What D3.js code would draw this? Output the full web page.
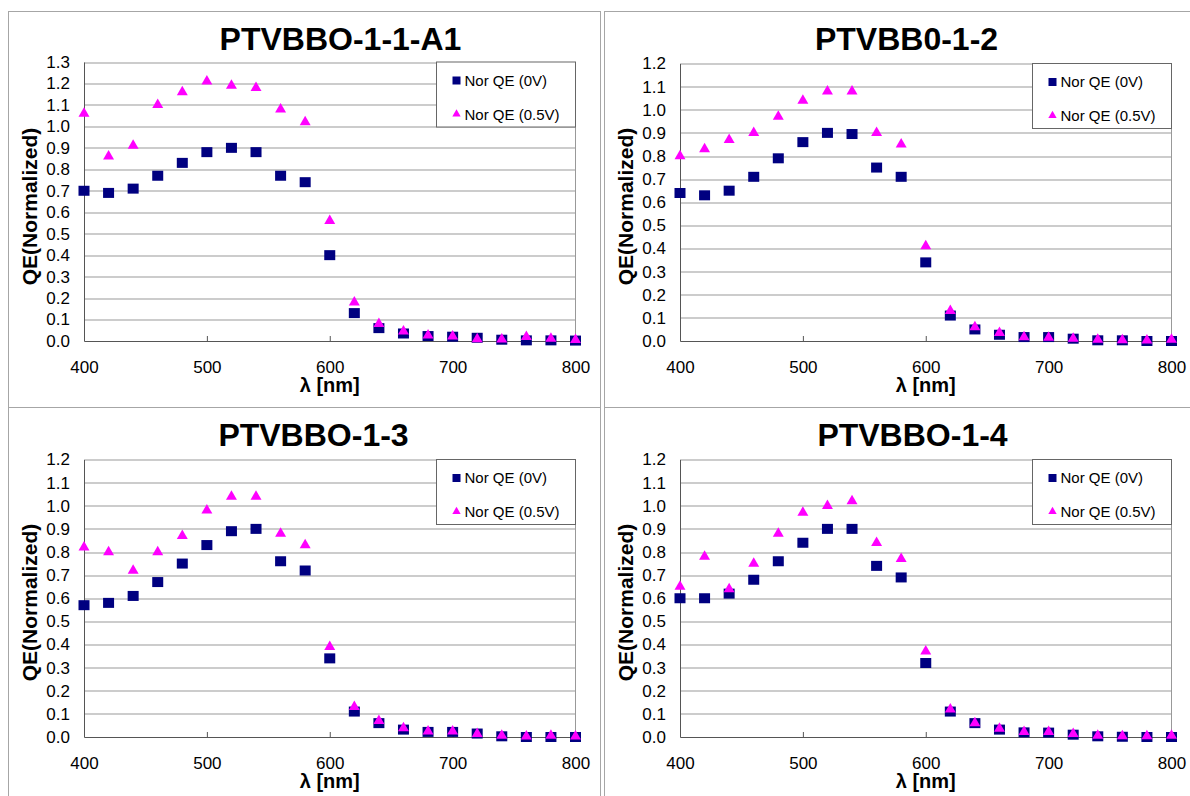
<!DOCTYPE html>
<html>
<head>
<meta charset="utf-8">
<script src="https://cdn.jsdelivr.net/npm/d3@7"></script>
<style>
    body { margin: 0; background: #fff; }
    svg { display: block; font-family: "Liberation Sans", Arial, sans-serif; }
</style>
</head>
<body>
<svg id="chart" width="1190" height="796"></svg>
<script>

var wavelengths = [400, 420, 440, 460, 480, 500, 520, 540, 560, 580, 600, 620, 640, 660, 680, 700, 720, 740, 760, 780, 800];
var xTicks = [400, 500, 600, 700, 800];
var yTicks13 = [0, 0.1, 0.2, 0.3, 0.4, 0.5, 0.6, 0.7, 0.8, 0.9, 1.0, 1.1, 1.2, 1.3];
var yTicks12 = [0, 0.1, 0.2, 0.3, 0.4, 0.5, 0.6, 0.7, 0.8, 0.9, 1.0, 1.1, 1.2];

var titles = ['PTVBBO-1-1-A1', 'PTVBB0-1-2', 'PTVBBO-1-3', 'PTVBBO-1-4'];
var seriesNames = ['Nor QE (0V)', 'Nor QE (0.5V)'];

var qe0V_A1 = [0.70, 0.69, 0.71, 0.77, 0.83, 0.88, 0.90, 0.88, 0.77, 0.74, 0.40, 0.13, 0.06, 0.035, 0.023, 0.02, 0.015, 0.006, 0.003, 0.003, 0.002];
var qe05V_A1 = [1.06, 0.86, 0.91, 1.10, 1.16, 1.21, 1.19, 1.18, 1.08, 1.02, 0.56, 0.18, 0.08, 0.045, 0.026, 0.022, 0.009, 0.008, 0.019, 0.011, 0.006];

var qe0V_2 = [0.64, 0.63, 0.65, 0.71, 0.79, 0.86, 0.90, 0.895, 0.75, 0.71, 0.34, 0.11, 0.05, 0.027, 0.017, 0.017, 0.01, 0.003, 0.003, 0.0, 0.0];
var qe05V_2 = [0.80, 0.83, 0.87, 0.90, 0.97, 1.04, 1.08, 1.08, 0.90, 0.85, 0.41, 0.13, 0.06, 0.035, 0.017, 0.015, 0.01, 0.006, 0.004, 0.003, 0.006];

var qe0V_3 = [0.57, 0.58, 0.61, 0.67, 0.75, 0.83, 0.89, 0.90, 0.76, 0.72, 0.34, 0.11, 0.06, 0.032, 0.022, 0.022, 0.015, 0.003, 0.0, 0.0, 0.0];
var qe05V_3 = [0.82, 0.80, 0.72, 0.80, 0.87, 0.98, 1.04, 1.04, 0.88, 0.83, 0.39, 0.13, 0.07, 0.039, 0.025, 0.025, 0.014, 0.006, 0.003, 0.006, 0.003];

var qe0V_4 = [0.60, 0.60, 0.62, 0.68, 0.76, 0.84, 0.90, 0.90, 0.74, 0.69, 0.32, 0.11, 0.06, 0.032, 0.02, 0.019, 0.01, 0.003, 0.001, 0.0, 0.0];
var qe05V_4 = [0.65, 0.78, 0.64, 0.75, 0.88, 0.97, 1.00, 1.02, 0.84, 0.77, 0.37, 0.12, 0.06, 0.036, 0.022, 0.022, 0.014, 0.006, 0.004, 0.004, 0.006];

var panels = [
    { x: 8.5, y: 11.5, w: 592, h: 396, titleX: 332, top: 50.5, ticks: yTicks13, s0: qe0V_A1, s05: qe05V_A1 },
    { x: 604.5, y: 11.5, w: 600, h: 396, titleX: 302, top: 52, ticks: yTicks12, s0: qe0V_2, s05: qe05V_2 },
    { x: 8.5, y: 407.5, w: 592, h: 400, titleX: 305, top: 52, ticks: yTicks12, s0: qe0V_3, s05: qe05V_3 },
    { x: 604.5, y: 407.5, w: 600, h: 400, titleX: 308, top: 52, ticks: yTicks12, s0: qe0V_4, s05: qe05V_4 }
];

var plotLeft = 75.5, plotRight = 567, plotBottom = 329.5;
var fontFamily = '"Liberation Sans", Arial, sans-serif';

var svg = d3.select('#chart');

panels.forEach(function (p, i) {

    var g = svg.append('g').attr('transform', 'translate(' + p.x + ',' + p.y + ')');

    // panel frame
    g.append('rect')
        .attr('width', p.w).attr('height', p.h)
        .attr('fill', '#fff').attr('stroke', '#a6a6a6');

    var yMax = p.ticks[p.ticks.length - 1];
    var x = d3.scaleLinear().domain([400, 800]).range([plotLeft, plotRight]);
    var y = d3.scaleLinear().domain([0, yMax]).range([plotBottom, p.top]);

    // gridlines
    g.append('g').selectAll('line')
        .data(p.ticks.slice(1))
        .enter().append('line')
        .attr('x1', plotLeft).attr('x2', plotRight)
        .attr('y1', function (d) { return Math.round(y(d)) + 0.5; })
        .attr('y2', function (d) { return Math.round(y(d)) + 0.5; })
        .attr('stroke', '#999');

    g.append('line')
        .attr('x1', plotRight).attr('x2', plotRight)
        .attr('y1', y(yMax)).attr('y2', plotBottom)
        .attr('stroke', '#999');

    // axes
    var xAxis = g.append('g')
        .attr('transform', 'translate(0,' + plotBottom + ')')
        .call(d3.axisBottom(x).tickValues(xTicks).tickSize(-5).tickSizeOuter(0).tickPadding(20));
    xAxis.attr('font-size', 17).attr('font-family', fontFamily);
    xAxis.selectAll('path, line').attr('stroke', '#555');
    xAxis.selectAll('text').attr('fill', '#000');

    var yAxis = g.append('g')
        .attr('transform', 'translate(' + plotLeft + ',0)')
        .call(d3.axisLeft(y).tickValues(p.ticks).tickSize(0).tickPadding(14).tickFormat(d3.format('.1f')));
    yAxis.attr('font-size', 17).attr('font-family', fontFamily);
    yAxis.select('.domain').attr('stroke', '#555');
    yAxis.selectAll('text').attr('fill', '#000');

    // titles
    g.append('text')
        .attr('x', p.titleX).attr('y', 38)
        .attr('text-anchor', 'middle')
        .attr('font-size', 32).attr('font-weight', 'bold')
        .text(titles[i]);

    g.append('text')
        .attr('x', (plotLeft + plotRight) / 2).attr('y', 380)
        .attr('text-anchor', 'middle')
        .attr('font-size', 20).attr('font-weight', 'bold')
        .text('λ [nm]');

    g.append('text')
        .attr('transform', 'translate(21,195) rotate(-90)')
        .attr('dy', '0.35em')
        .attr('text-anchor', 'middle')
        .attr('font-size', 21).attr('font-weight', 'bold')
        .text('QE(Normalized)');

    // points
    g.append('g').selectAll('rect')
        .data(p.s0)
        .enter().append('rect')
        .attr('x', function (d, j) { return x(wavelengths[j]) - 5.5; })
        .attr('y', function (d) { return y(d) - 5; })
        .attr('width', 11).attr('height', 10)
        .attr('fill', '#000080');

    var tri = d3.symbol().type(d3.symbolTriangle).size(52);
    g.append('g').selectAll('path')
        .data(p.s05)
        .enter().append('path')
        .attr('d', tri)
        .attr('transform', function (d, j) { return 'translate(' + x(wavelengths[j]) + ',' + y(d) + ')'; })
        .attr('fill', '#ff00ff');

    // legend
    var legend = g.append('g').attr('transform', 'translate(' + (plotRight - 139) + ',' + p.top + ')');
    legend.append('rect')
        .attr('width', 139).attr('height', 65)
        .attr('fill', '#fff').attr('stroke', '#666');
    legend.append('rect')
        .attr('x', 16).attr('y', 14.5).attr('width', 8).attr('height', 8)
        .attr('fill', '#000080');
    legend.append('path')
        .attr('d', d3.symbol().type(d3.symbolTriangle).size(30))
        .attr('transform', 'translate(20,52)')
        .attr('fill', '#ff00ff');
    legend.selectAll('text.item')
        .data(seriesNames)
        .enter().append('text')
        .attr('class', 'item')
        .attr('x', 28)
        .attr('y', function (d, j) { return j === 0 ? 23.5 : 57.5; })
        .attr('font-size', 15)
        .text(function (d) { return d; });
});

</script>
</body>
</html>
